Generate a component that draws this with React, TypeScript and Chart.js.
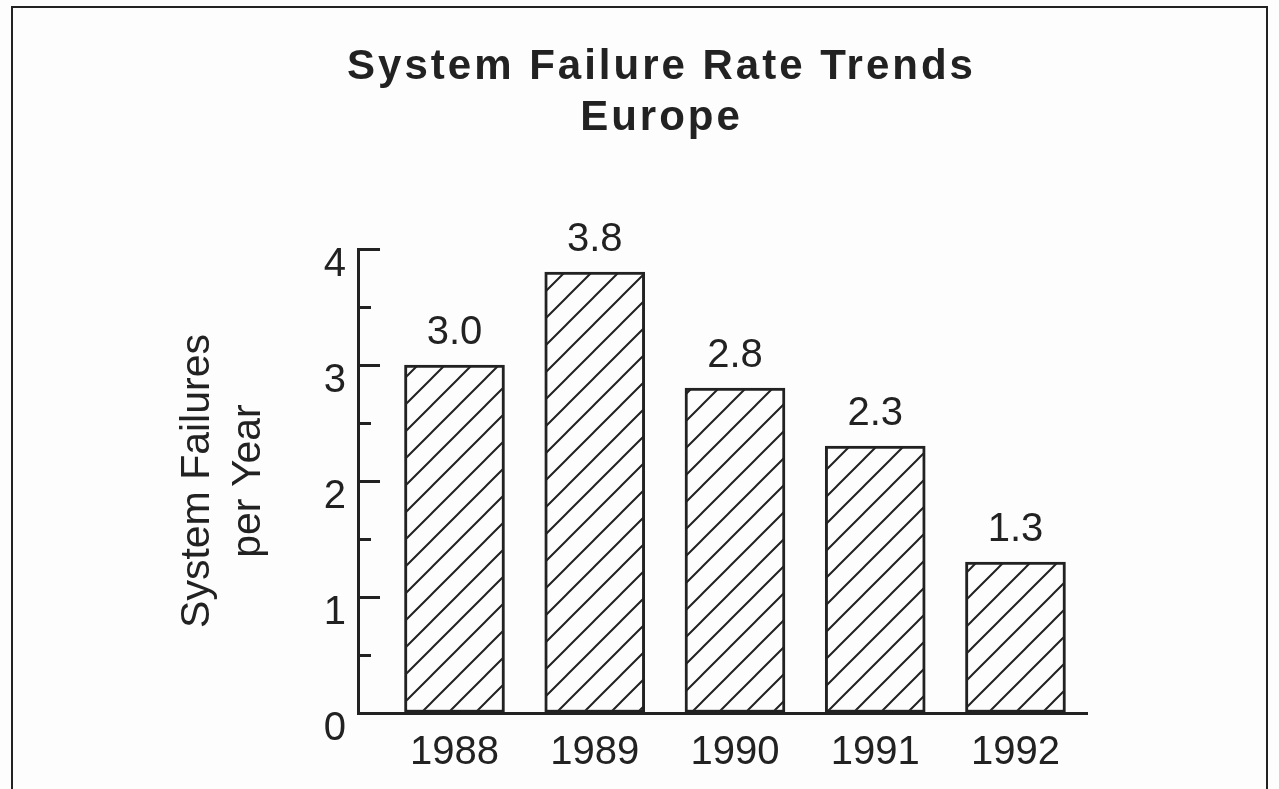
import React, { useEffect, useRef } from 'react';
import { Chart, registerables } from 'chart.js';

Chart.register(...registerables);

const titleLines = ['System Failure Rate Trends', 'Europe'];
const yTitleLines = ['System Failures', 'per Year'];
const years = ['1988', '1989', '1990', '1991', '1992'];
const failures = [3.0, 3.8, 2.8, 2.3, 1.3];
const yTickLabels = ['0', '1', '2', '3', '4'];

const INK = '#222222';
const PAPER = '#fdfdfd';
const FONT = '"Liberation Sans", Arial, Helvetica, sans-serif';

function makeHatch(): CanvasPattern | string {
  const s = 27;
  const c = document.createElement('canvas');
  c.width = s;
  c.height = s;
  const g = c.getContext('2d');
  if (!g) return PAPER;
  g.fillStyle = PAPER;
  g.fillRect(0, 0, s, s);
  g.strokeStyle = INK;
  g.lineWidth = 2;
  g.beginPath();
  for (let k = -1; k <= 1; k++) {
    g.moveTo(k * s - 3, s + 3);
    g.lineTo(k * s + s + 3, -3);
  }
  g.stroke();
  const p = g.createPattern(c, 'repeat');
  return p || PAPER;
}

// Wider title lettering: only the title box is drawn before the datasets;
// every scale layer is given z = 1 so it is drawn after the reset.
const titleSpacingPlugin = {
  id: 'titleSpacing',
  beforeDraw(chart: any) {
    (chart.ctx as any).letterSpacing = '3px';
  },
  beforeDatasetsDraw(chart: any) {
    (chart.ctx as any).letterSpacing = '0px';
  },
};

const valueLabelPlugin = {
  id: 'valueLabels',
  afterDatasetsDraw(chart: any) {
    const meta = chart.getDatasetMeta(0);
    const ctx = chart.ctx;
    ctx.save();
    (ctx as any).letterSpacing = '0px';
    ctx.font = `40px ${FONT}`;
    ctx.fillStyle = INK;
    ctx.textAlign = 'center';
    ctx.textBaseline = 'alphabetic';
    meta.data.forEach((el: any, i: number) => {
      ctx.fillText(failures[i].toFixed(1), el.x, el.y - 21);
    });
    ctx.restore();
  },
};

export default function App() {
  const canvasRef = useRef<HTMLCanvasElement | null>(null);

  useEffect(() => {
    const canvas = canvasRef.current;
    if (!canvas) return;
    const hatch = makeHatch();
    const chart = new Chart(canvas, {
      type: 'bar',
      data: {
        datasets: [
          {
            data: failures.map((v, i) => ({ x: i + 1, y: v })),
            backgroundColor: hatch as any,
            borderColor: INK,
            borderWidth: 3,
            borderSkipped: false,
            barThickness: 100,
          },
        ],
      },
      options: {
        animation: false,
        responsive: false,
        devicePixelRatio: 1,
        layout: { padding: { left: 44, right: 0, top: 0, bottom: 0 } },
        plugins: {
          legend: { display: false },
          tooltip: { enabled: false },
          title: {
            display: true,
            text: titleLines,
            color: INK,
            font: { family: FONT, size: 42, weight: 'bold', lineHeight: 51 / 42 },
            padding: { top: 42, bottom: 105 },
          },
        },
        scales: {
          x: {
            type: 'linear',
            offset: false,
            min: 0.312,
            max: 5.51,
            afterBuildTicks: (scale: any) => {
              scale.ticks = years.map((_, i) => ({ value: i + 1 }));
            },
            afterFit: (scale: any) => {
              scale.height = 76;
            },
            grid: { display: false, offset: false, z: 1 },
            border: { display: true, color: INK, width: 3, z: 1 },
            ticks: {
              z: 1,
              autoSkip: false,
              maxRotation: 0,
              padding: 8,
              color: INK,
              font: { family: FONT, size: 40 },
              callback: (v: any) => years[Math.round(Number(v)) - 1] ?? '',
            },
          },
          y: {
            type: 'linear',
            position: 'left',
            min: 0,
            max: 4,
            afterFit: (scale: any) => {
              scale.width = 314;
            },
            border: { display: true, color: INK, width: 3, z: 1 },
            grid: {
              z: 1,
              display: true,
              drawOnChartArea: false,
              drawTicks: true,
              tickLength: -22,
              tickWidth: 3,
              tickColor: INK,
              tickBorderDash: (ctx: any) =>
                ctx.tick && !Number.isInteger(ctx.tick.value) ? [0, 9, 30, 100] : [],
            },
            ticks: {
              z: 1,
              stepSize: 0.5,
              autoSkip: false,
              padding: 34,
              labelOffset: 16,
              color: INK,
              font: { family: FONT, size: 40 },
              callback: (v: any) => (Number.isInteger(Number(v)) ? yTickLabels[Number(v)] : ''),
            },
            title: {
              display: true,
              text: yTitleLines,
              color: INK,
              font: { family: FONT, size: 41, lineHeight: 1.25 },
              padding: { top: 128, bottom: 0 },
            },
          },
          yRight: {
            type: 'linear',
            position: 'right',
            min: 0,
            max: 4,
            afterFit: (scale: any) => {
              scale.width = 192;
            },
            grid: { display: false, z: 1 },
            border: { display: false, z: 1 },
            ticks: { display: false, z: 1 },
          },
        },
      },
      plugins: [titleSpacingPlugin, valueLabelPlugin],
    });
    return () => chart.destroy();
  }, []);

  return (
    <div style={{ position: 'fixed', left: 0, top: 0, width: 1279, height: 789, background: PAPER, overflow: 'hidden' }}>
      <div
        style={{
          position: 'absolute',
          left: 11,
          top: 6,
          width: 1253,
          height: 900,
          border: `2px solid ${INK}`,
          boxSizing: 'content-box',
        }}
      />
      <canvas
        ref={canvasRef}
        width={1279}
        height={789}
        style={{ position: 'absolute', left: 0, top: 0, width: 1279, height: 789 }}
      />
    </div>
  );
}
